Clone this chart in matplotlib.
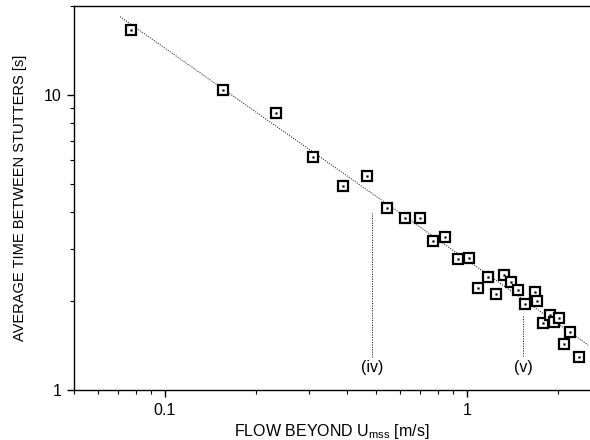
import matplotlib
matplotlib.use("Agg")
import matplotlib.pyplot as plt
from matplotlib.ticker import LogLocator, NullFormatter, FixedLocator, FixedFormatter

plt.rcParams['font.family'] = ['Liberation Sans', 'DejaVu Sans']
plt.rcParams['mathtext.fontset'] = 'custom'
plt.rcParams['mathtext.rm'] = 'Liberation Sans'

# data
flow = [0.077, 0.156, 0.233, 0.309, 0.388, 0.467, 0.543, 0.624, 0.699, 0.771,
        0.846, 0.934, 1.015, 1.090, 1.171, 1.247, 1.326, 1.398, 1.472, 1.556,
        1.671, 1.706, 1.789, 1.873, 1.945, 2.02, 2.096, 2.19, 2.34]
time_between = [16.6, 10.4, 8.69, 6.16, 4.92, 5.31, 4.14, 3.83, 3.83, 3.20,
                3.30, 2.78, 2.80, 2.21, 2.42, 2.11, 2.45, 2.32, 2.19, 1.96,
                2.14, 2.01, 1.69, 1.80, 1.70, 1.75, 1.43, 1.57, 1.29]
fit_x = [0.071, 2.515]
fit_y = [18.4, 1.42]
marker_x = [0.484, 1.53]
marker_top = [3.98, 1.80]
marker_bottom = [1.29, 1.30]
marker_labels = ['(iv)', '(v)']
label_y = 1.19

fig = plt.figure(figsize=(5.9, 4.4), dpi=100)
ax = fig.add_axes([74/590, 50/440, 516/590, 384/440])

ax.plot(fit_x, fit_y, linestyle=(0, (1, 1.5)), color='black', linewidth=0.7)
ax.plot(flow, time_between, linestyle='none', marker='s', markersize=7,
        markerfacecolor='white', markeredgecolor='black', markeredgewidth=1.6)
ax.plot(flow, time_between, linestyle='none', marker='s', markersize=1.2,
        markerfacecolor='black', markeredgecolor='black', markeredgewidth=0.3)

for xv, t, b, lab in zip(marker_x, marker_top, marker_bottom, marker_labels):
    ax.plot([xv, xv], [b, t], linestyle=(0, (1, 1.5)), color='black', linewidth=0.7)
    ax.text(xv, label_y, lab, ha='center', va='center', fontsize=11.5)

ax.set_xscale('log')
ax.set_yscale('log')
ax.set_xlim(0.05, 2.55)
ax.set_ylim(1, 20)

ax.xaxis.set_major_locator(FixedLocator([0.1, 1]))
ax.xaxis.set_major_formatter(FixedFormatter(['0.1', '1']))
ax.xaxis.set_minor_locator(LogLocator(base=10, subs=range(2, 10)))
ax.xaxis.set_minor_formatter(NullFormatter())
ax.yaxis.set_major_locator(FixedLocator([1, 10]))
ax.yaxis.set_major_formatter(FixedFormatter(['1', '10']))
ax.yaxis.set_minor_locator(LogLocator(base=10, subs=range(2, 10)))
ax.yaxis.set_minor_formatter(NullFormatter())

ax.tick_params(which='major', direction='out', length=5, width=1, labelsize=11.5, pad=4)
ax.tick_params(which='minor', direction='out', length=3, width=0.8)
ax.tick_params(top=False, right=False)
ax.spines['right'].set_visible(False)
for s in ['left', 'bottom', 'top']:
    ax.spines[s].set_linewidth(1.0)

ax.set_xlabel(r'FLOW BEYOND U$_{\mathregular{mss}}$ [m/s]', fontsize=11.5, labelpad=3)
ax.set_ylabel('AVERAGE TIME BETWEEN STUTTERS [s]', fontsize=10.5, labelpad=12)

fig.savefig('out.png', dpi=100)
